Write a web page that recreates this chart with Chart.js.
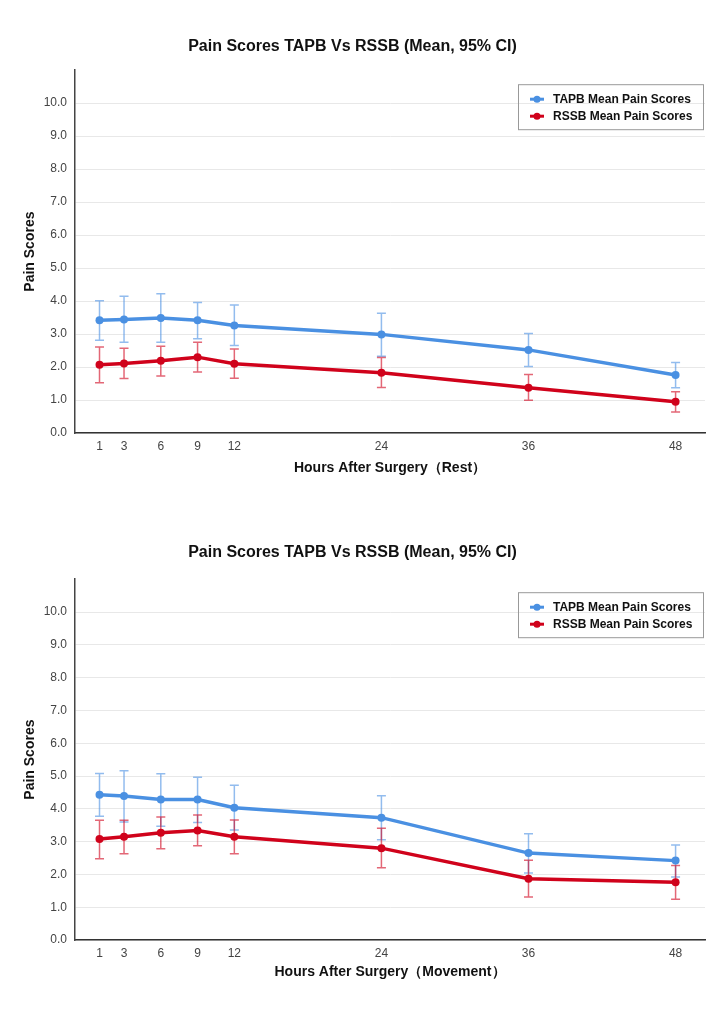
<!DOCTYPE html>
<html>
<head>
<meta charset="utf-8">
<script src="https://cdn.jsdelivr.net/npm/chart.js@4.4.1/dist/chart.umd.min.js"></script>
<style>
  body { margin: 0; background: #fff; }
  canvas { display: block; }
</style>
</head>
<body>
<canvas id="restChart" width="725" height="505"></canvas>
<canvas id="moveChart" width="725" height="510"></canvas>
<script>
// hours after surgery
const hours = [1, 3, 6, 9, 12, 24, 36, 48];
const yTickValues = [0, 1, 2, 3, 4, 5, 6, 7, 8, 9, 10];

// rest
const tapbRest = [3.42, 3.44, 3.49, 3.42, 3.26, 2.99, 2.52, 1.76];
const tapbRestLow = [2.81, 2.75, 2.75, 2.86, 2.65, 2.33, 2.02, 1.37];
const tapbRestHigh = [4.01, 4.15, 4.22, 3.96, 3.88, 3.63, 3.02, 2.14];
const rssbRest = [2.07, 2.11, 2.19, 2.30, 2.10, 1.83, 1.37, 0.95];
const rssbRestLow = [1.52, 1.65, 1.73, 1.85, 1.66, 1.38, 0.99, 0.64];
const rssbRestHigh = [2.61, 2.57, 2.63, 2.75, 2.55, 2.29, 1.77, 1.25];

// movement
const tapbMove = [4.43, 4.39, 4.28, 4.28, 4.03, 3.73, 2.65, 2.42];
const tapbMoveLow = [3.77, 3.60, 3.47, 3.58, 3.35, 3.06, 2.04, 1.92];
const tapbMoveHigh = [5.08, 5.16, 5.07, 4.96, 4.72, 4.40, 3.24, 2.90];
const rssbMove = [3.08, 3.15, 3.27, 3.34, 3.15, 2.80, 1.87, 1.76];
const rssbMoveLow = [2.48, 2.63, 2.78, 2.87, 2.63, 2.20, 1.31, 1.24];
const rssbMoveHigh = [3.65, 3.65, 3.75, 3.81, 3.66, 3.41, 2.43, 2.27];

const chartTitle = "Pain Scores TAPB Vs RSSB (Mean, 95% CI)";
const yTitle = "Pain Scores";
const tapbLabel = "TAPB Mean Pain Scores";
const rssbLabel = "RSSB Mean Pain Scores";

const blue = "#4a90e2";
const red = "#d0021b";
const FONT = "'Liberation Sans', Arial, sans-serif";

// vertical 95% CI whiskers, drawn behind the lines
const errorBars = {
  id: "errorBars",
  beforeDatasetsDraw(chart) {
    const ctx = chart.ctx;
    const xs = chart.scales.x, ys = chart.scales.y;
    chart.data.datasets.forEach(ds => {
      ctx.save();
      ctx.strokeStyle = ds.errColor;
      ctx.lineWidth = 1.5;
      ds.data.forEach((p, i) => {
        const x = xs.getPixelForValue(p.x);
        const y1 = ys.getPixelForValue(ds.errLow[i]);
        const y2 = ys.getPixelForValue(ds.errHigh[i]);
        ctx.beginPath();
        ctx.moveTo(x, y1); ctx.lineTo(x, y2);
        ctx.moveTo(x - 4.5, y1); ctx.lineTo(x + 4.5, y1);
        ctx.moveTo(x - 4.5, y2); ctx.lineTo(x + 4.5, y2);
        ctx.stroke();
      });
      ctx.restore();
    });
  }
};

// boxed legend in the upper right of the plot
const boxLegend = {
  id: "boxLegend",
  afterDraw(chart) {
    const ctx = chart.ctx;
    const a = chart.chartArea;
    const bx = a.right - 187, by = a.top + chart.options.plugins.boxLegend.offsetTop;
    ctx.save();
    ctx.strokeStyle = "#999";
    ctx.lineWidth = 1;
    ctx.strokeRect(bx + 0.5, by + 0.5, 185, 45);
    ctx.font = "bold 12px " + FONT;
    ctx.textBaseline = "middle";
    chart.data.datasets.forEach((ds, i) => {
      const y = by + 15 + i * 17;
      ctx.strokeStyle = ds.borderColor;
      ctx.fillStyle = ds.borderColor;
      ctx.lineWidth = 3;
      ctx.beginPath();
      ctx.moveTo(bx + 12, y); ctx.lineTo(bx + 26, y);
      ctx.stroke();
      ctx.beginPath();
      ctx.arc(bx + 19, y, 3.5, 0, Math.PI * 2);
      ctx.fill();
      ctx.fillStyle = "#111";
      ctx.fillText(ds.label, bx + 35, y);
    });
    ctx.restore();
  }
};

function series(label, means, low, high, color, errColor) {
  return {
    label: label,
    data: hours.map((h, i) => ({x: h, y: means[i]})),
    errLow: low,
    errHigh: high,
    errColor: errColor,
    borderColor: color,
    backgroundColor: color,
    borderWidth: 3.5,
    pointRadius: 4,
    pointHoverRadius: 4,
    pointBackgroundColor: color,
    pointBorderWidth: 0,
    tension: 0
  };
}

function makeChart(id, xTitle, datasets, lay) {
  return new Chart(document.getElementById(id), {
    type: "line",
    data: {datasets: datasets},
    plugins: [errorBars, boxLegend],
    options: {
      responsive: false,
      animation: false,
      layout: {padding: {left: 0, right: 20, top: 0, bottom: 0}},
      plugins: {
        legend: {display: false},
        tooltip: {enabled: false},
        boxLegend: {offsetTop: lay.legendTop},
        title: {
          display: true,
          text: chartTitle,
          color: "#111",
          font: {family: FONT, size: 16, weight: "bold"},
          padding: {top: lay.titleTop, bottom: lay.titleBottom}
        }
      },
      scales: {
        x: {
          type: "linear",
          min: -1,
          max: 50.4,
          afterBuildTicks: s => { s.ticks = hours.map(h => ({value: h})); },
          afterFit: s => { s.height = lay.xHeight; },
          grid: {display: false, drawTicks: false},
          border: {display: true, color: "#333", width: 1.5},
          ticks: {
            padding: 6,
            color: "#444",
            font: {family: FONT, size: 12},
            maxRotation: 0,
            autoSkip: false
          },
          title: {
            display: true,
            text: xTitle,
            color: "#111",
            font: {family: FONT, size: 14, weight: "bold"},
            padding: {top: 0, bottom: lay.xTitleBottom}
          }
        },
        y: {
          min: 0,
          max: 11,
          afterBuildTicks: s => { s.ticks = yTickValues.map(v => ({value: v})); },
          afterFit: s => { s.width = 75; },
          grid: {color: "#e8e8e8", lineWidth: 1, drawTicks: false},
          border: {display: true, color: "#444", width: 1.5},
          ticks: {
            padding: 8,
            color: "#444",
            font: {family: FONT, size: 12},
            callback: v => Number(v).toFixed(1)
          },
          title: {
            display: true,
            text: yTitle,
            color: "#111",
            font: {family: FONT, size: 14, weight: "bold"},
            padding: {top: 21.6, bottom: 0}
          }
        }
      }
    }
  });
}

makeChart("restChart", "Hours After Surgery（Rest）", [
  series(tapbLabel, tapbRest, tapbRestLow, tapbRestHigh, blue, "rgba(74,144,226,0.6)"),
  series(rssbLabel, rssbRest, rssbRestLow, rssbRestHigh, red, "rgba(208,2,27,0.6)")
], {titleTop: 37, titleBottom: 14, xHeight: 72, xTitleBottom: 28.6, legendTop: 14});

makeChart("moveChart", "Hours After Surgery（Movement）", [
  series(tapbLabel, tapbMove, tapbMoveLow, tapbMoveHigh, blue, "rgba(74,144,226,0.6)"),
  series(rssbLabel, rssbMove, rssbMoveLow, rssbMoveHigh, red, "rgba(208,2,27,0.6)")
], {titleTop: 38, titleBottom: 17, xHeight: 75, xTitleBottom: 34.6, legendTop: 13});
</script>
</body>
</html>
